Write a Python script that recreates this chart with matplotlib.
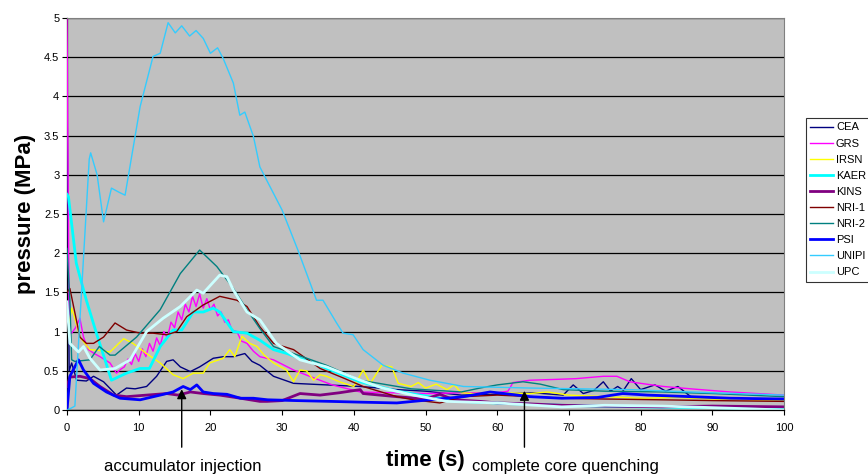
"""Pressure transients for the code benchmark, recreated with matplotlib."""

import matplotlib

matplotlib.use("Agg")
import matplotlib.pyplot as plt

# --- data (time in s, pressure in MPa) ---
CEA_T = [0, 0.3, 0.65, 1.35, 2.7, 3.7, 5.1, 6.9, 8.3, 9.5, 11.1, 12.5, 13.9, 14.8,
         15.8, 17.2, 18.5, 20.4, 21.8, 23.2, 24.8, 25.8, 26.9, 28.8, 31.6, 36.2,
         40.9, 46, 50, 55, 60, 65, 69.2, 70.6, 72, 73.5, 74.8, 75.8, 76.8, 77.6,
         78.7, 80, 82, 83.5, 85.2, 87, 92.5, 100]
CEA_P = [4.15, 0.5, 0.60, 0.38, 0.37, 0.43, 0.36, 0.19, 0.28, 0.27, 0.30, 0.43, 0.62,
         0.64, 0.55, 0.49, 0.55, 0.66, 0.68, 0.68, 0.72, 0.62, 0.57, 0.43, 0.34, 0.32,
         0.30, 0.26, 0.24, 0.19, 0.20, 0.22, 0.19, 0.32, 0.21, 0.25, 0.36, 0.24, 0.30,
         0.25, 0.40, 0.26, 0.32, 0.24, 0.30, 0.17, 0.15, 0.13]

GRS_T = [0, 0.3, 0.65, 1.2, 1.8, 2.3, 3.0, 3.8, 4.6, 5.3, 6.0, 6.9, 7.5, 8.0, 8.5,
         9.0, 9.5, 10.0, 10.5, 11.0, 11.5, 12.0, 12.5, 13.0, 13.5, 14.0, 14.5, 15.0,
         15.5, 16.0, 16.5, 17.0, 17.5, 18.0, 18.5, 19.0, 19.5, 20.0, 20.5, 21.0, 21.5,
         22.0, 22.5, 23.0, 23.7, 24.3, 25.1, 26.0, 26.9, 28.8, 31.6, 34.4, 37, 40.9,
         45, 50.6, 55, 60, 61.5, 62.2, 64.6, 68, 71, 74.8, 76.7, 78.5, 80, 83.2, 87,
         92.5, 100]
GRS_P = [5.0, 1.0, 0.98, 1.05, 1.17, 0.93, 0.77, 0.72, 0.68, 0.64, 0.60, 0.47, 0.52,
         0.55, 0.65, 0.58, 0.72, 0.62, 0.78, 0.68, 0.85, 0.75, 0.92, 0.82, 1.0, 0.92,
         1.12, 1.05, 1.25, 1.15, 1.35, 1.25, 1.45, 1.32, 1.48, 1.30, 1.42, 1.28, 1.35,
         1.20, 1.25, 1.12, 1.15, 1.02, 1.0, 0.88, 0.85, 0.75, 0.68, 0.64, 0.51, 0.41,
         0.32, 0.23, 0.22, 0.21, 0.22, 0.22, 0.24, 0.35, 0.38, 0.39, 0.40, 0.43, 0.43,
         0.36, 0.34, 0.30, 0.27, 0.23, 0.19]

IRSN_T = [0.3, 0.65, 1.0, 1.8, 3.2, 4.5, 6.0, 7.9, 9.2, 11.1, 13.0, 14.8, 16.2, 17.6,
          19.0, 19.9, 21.8, 22.7, 23.4, 24.4, 25.5, 26.5, 27.5, 28.8, 30.6, 31.6, 32.5,
          33.4, 34.4, 35.3, 36.2, 38, 40, 41.3, 42.3, 43.9, 45.3, 46.2, 48, 49, 50,
          51.5, 53, 54, 55, 56.7, 60, 64.6, 67, 70, 75, 80, 85, 90, 95, 100]
IRSN_P = [1.1, 1.30, 1.2, 0.93, 0.77, 0.76, 0.74, 0.91, 0.85, 0.72, 0.60, 0.45, 0.40,
          0.47, 0.47, 0.60, 0.66, 0.77, 0.68, 0.94, 0.85, 0.81, 0.70, 0.60, 0.51, 0.36,
          0.51, 0.50, 0.38, 0.45, 0.43, 0.36, 0.30, 0.51, 0.34, 0.57, 0.55, 0.34, 0.30,
          0.35, 0.28, 0.33, 0.26, 0.32, 0.22, 0.21, 0.22, 0.21, 0.23, 0.19, 0.17, 0.15,
          0.16, 0.14, 0.13, 0.12]

KAER_T = [0, 0.2, 1.3, 2.7, 4.1, 5.3, 6.2, 8.3, 10.2, 11.5, 13.0, 14.8, 16.0, 17.6,
          19.0, 20.4, 21.3, 23.2, 25.1, 26.9, 28.8, 30.7, 34.3, 40.9, 46, 50.6, 55,
          62, 69, 80, 90, 100]
KAER_P = [2.75, 2.72, 1.87, 1.40, 0.98, 0.64, 0.38, 0.47, 0.53, 0.53, 0.81, 1.02, 1.02,
          1.25, 1.25, 1.30, 1.25, 1.0, 0.98, 0.89, 0.77, 0.72, 0.60, 0.36, 0.24, 0.17,
          0.11, 0.08, 0.06, 0.04, 0.03, 0.01]

KINS_T = [0, 0.4, 1.8, 3.2, 4.6, 6.5, 8.3, 11.1, 13.9, 15.5, 17.2, 19.0, 21.3, 24.2,
          26.9, 27.9, 30, 32.5, 35.3, 38, 40.9, 41.3, 46, 50, 52, 54, 57.6, 60, 64,
          69, 75, 83, 90, 100]
KINS_P = [0.30, 0.42, 0.43, 0.40, 0.30, 0.19, 0.17, 0.19, 0.21, 0.19, 0.23, 0.21, 0.19,
          0.15, 0.11, 0.11, 0.12, 0.21, 0.19, 0.22, 0.26, 0.21, 0.17, 0.14, 0.20, 0.13,
          0.11, 0.09, 0.08, 0.06, 0.05, 0.04, 0.05, 0.04]

NRI1_T = [0, 0.4, 1.8, 2.7, 3.7, 5.1, 6.7, 8.3, 10.2, 12.0, 13.9, 15.3, 16.7, 19.0,
          21.3, 23.7, 25.1, 26.9, 28.8, 31.6, 35.3, 38.5, 41.3, 46, 48.3, 52, 55.3,
          60, 65, 69.2, 75, 83, 90, 100]
NRI1_P = [1.5, 1.55, 0.93, 0.85, 0.85, 0.93, 1.11, 1.02, 0.98, 0.98, 0.96, 1.0, 1.19,
          1.34, 1.45, 1.40, 1.32, 1.06, 0.85, 0.77, 0.53, 0.41, 0.30, 0.17, 0.13, 0.09,
          0.17, 0.19, 0.17, 0.15, 0.14, 0.13, 0.12, 0.11]

NRI2_T = [0, 0.4, 0.65, 1.1, 3.2, 4.5, 6.0, 6.7, 9.7, 13.0, 15.8, 18.5, 20.9, 23.2,
          25.1, 26.9, 28.8, 31.6, 36.2, 40.9, 48, 55, 57.6, 60, 63.6, 66, 69.2, 75,
          83, 90, 100]
NRI2_P = [2.06, 1.40, 0.64, 0.62, 0.64, 0.81, 0.70, 0.70, 0.93, 1.28, 1.74, 2.04, 1.83,
          1.55, 1.28, 1.04, 0.81, 0.72, 0.57, 0.38, 0.27, 0.23, 0.28, 0.32, 0.36, 0.33,
          0.26, 0.24, 0.23, 0.21, 0.17]

PSI_T = [0, 0.4, 1.6, 2.3, 3.7, 5.5, 7.4, 10.2, 13.0, 14.8, 16.2, 17.2, 18.1, 19.0,
         20.4, 22.3, 24.2, 26.0, 28, 32, 36.7, 41, 46, 50.6, 55.3, 59, 61, 64.6, 69,
         74, 77.5, 81, 87, 92.5, 100]
PSI_P = [0.0, 0.43, 0.64, 0.51, 0.34, 0.23, 0.15, 0.13, 0.19, 0.23, 0.30, 0.26, 0.32,
         0.23, 0.21, 0.20, 0.15, 0.15, 0.13, 0.12, 0.11, 0.10, 0.09, 0.13, 0.17, 0.23,
         0.21, 0.17, 0.15, 0.16, 0.21, 0.19, 0.17, 0.15, 0.14]

UNIPI_T = [0, 0.5, 1.1, 3.1, 3.3, 4.2, 5.1, 6.2, 7.2, 8.1, 10.2, 12.0, 13.0, 14.1,
           15.1, 16.0, 17.1, 18.0, 19.0, 20.0, 21.0, 21.8, 23.2, 24.1, 24.8, 26.0,
           26.9, 30.0, 32.2, 34.8, 35.7, 37.6, 38.5, 39.9, 41.3, 44.1, 46.9, 50.6,
           55.3, 64.6, 78.5, 90, 100]
UNIPI_P = [0.0, 0.02, 0.05, 3.2, 3.28, 3.0, 2.40, 2.83, 2.78, 2.74, 3.87, 4.51, 4.55,
           4.94, 4.81, 4.90, 4.77, 4.84, 4.74, 4.55, 4.62, 4.48, 4.17, 3.76, 3.80, 3.49,
           3.10, 2.55, 2.04, 1.40, 1.40, 1.11, 0.98, 0.96, 0.77, 0.57, 0.47, 0.38, 0.30,
           0.28, 0.26, 0.22, 0.19]

UPC_T = [0, 0.4, 1.6, 2.3, 3.2, 4.6, 6.7, 8.8, 11.1, 13.4, 15.8, 18.1, 19.0, 21.3,
         22.3, 23.2, 25.1, 26.9, 29.2, 32.5, 36.2, 40.9, 44, 48.3, 53, 60, 69, 75,
         83, 90, 100]
UPC_P = [1.38, 0.85, 0.74, 0.81, 0.66, 0.51, 0.53, 0.64, 1.0, 1.17, 1.32, 1.53, 1.49,
         1.72, 1.70, 1.53, 1.25, 1.15, 0.85, 0.64, 0.55, 0.38, 0.28, 0.19, 0.11, 0.09,
         0.04, 0.06, 0.05, 0.03, 0.0]

SERIES = [
    ("CEA", CEA_T, CEA_P, "#000080", 1.0),
    ("GRS", GRS_T, GRS_P, "#FF00FF", 1.0),
    ("IRSN", IRSN_T, IRSN_P, "#FFFF00", 1.0),
    ("KAER", KAER_T, KAER_P, "#00FFFF", 2.0),
    ("KINS", KINS_T, KINS_P, "#800080", 2.0),
    ("NRI-1", NRI1_T, NRI1_P, "#800000", 1.0),
    ("NRI-2", NRI2_T, NRI2_P, "#008080", 1.0),
    ("PSI", PSI_T, PSI_P, "#0000FF", 2.0),
    ("UNIPI", UNIPI_T, UNIPI_P, "#33CCFF", 1.0),
    ("UPC", UPC_T, UPC_P, "#CCFFFF", 2.0),
]

X_TICKS = [0, 10, 20, 30, 40, 50, 60, 70, 80, 90, 100]
Y_TICKS = [0, 0.5, 1, 1.5, 2, 2.5, 3, 3.5, 4, 4.5, 5]
Y_TICK_LABELS = ["0", "0.5", "1", "1.5", "2", "2.5", "3", "3.5", "4", "4.5", "5"]

ACCUMULATOR_T, ACCUMULATOR_P = 16.0, 0.30
QUENCH_T, QUENCH_P = 63.8, 0.28


def main() -> None:
    plt.rcParams["font.family"] = ["Liberation Sans", "DejaVu Sans"]

    fig = plt.figure(figsize=(8.68, 4.75), dpi=100)
    ax = fig.add_axes([67 / 868, 1 - 410 / 475, (784 - 67) / 868, (410 - 18) / 475])
    ax.set_facecolor("#C0C0C0")

    for name, t, p, color, lw in SERIES:
        ax.plot(t, p, color=color, lw=lw, label=name, zorder=2)

    ax.set_xlim(0, 100)
    ax.set_ylim(0, 5)
    ax.set_xticks(X_TICKS)
    ax.set_yticks(Y_TICKS)
    ax.set_yticklabels(Y_TICK_LABELS)
    ax.tick_params(axis="both", direction="out", length=3.5, width=0.8,
                   labelsize=8, colors="black")
    ax.tick_params(axis="x", pad=6)
    ax.tick_params(axis="y", pad=2)

    ax.set_axisbelow(True)
    ax.yaxis.grid(True, color="black", linewidth=0.9)
    for side in ("top", "right"):
        ax.spines[side].set_color("#808080")
    for side in ("left", "bottom"):
        ax.spines[side].set_color("black")
        ax.spines[side].set_linewidth(0.9)
    ax.spines["left"].set_zorder(1.5)

    ax.set_xlabel("time (s)", fontsize=16, fontweight="bold", labelpad=12)
    ax.set_ylabel("pressure (MPa)", fontsize=16, fontweight="bold", labelpad=6)

    # event arrows coming up from below the axis
    arrow = dict(arrowstyle="-|>", color="black", lw=1.0, mutation_scale=14)
    ax.annotate("", xy=(ACCUMULATOR_T, ACCUMULATOR_P), xytext=(ACCUMULATOR_T, -0.51),
                arrowprops=arrow, annotation_clip=False)
    ax.annotate("", xy=(QUENCH_T, QUENCH_P), xytext=(QUENCH_T, -0.51),
                arrowprops=arrow, annotation_clip=False)
    fig.text(183 / 868, 1 - 467 / 475, "accumulator injection", fontsize=12,
             ha="center", va="center")
    fig.text(472 / 868, 1 - 467 / 475, "complete core quenching", fontsize=12,
             ha="left", va="center")

    leg = fig.legend(loc="upper left", bbox_to_anchor=(806 / 868, 1 - 118 / 475),
                     fontsize=8, frameon=True, fancybox=False, handlelength=2.0,
                     handletextpad=0.3, labelspacing=0.55, borderpad=0.4,
                     borderaxespad=0)
    leg.get_frame().set_edgecolor("black")
    leg.get_frame().set_linewidth(0.8)

    fig.savefig("out.png", dpi=100)


if __name__ == "__main__":
    main()
